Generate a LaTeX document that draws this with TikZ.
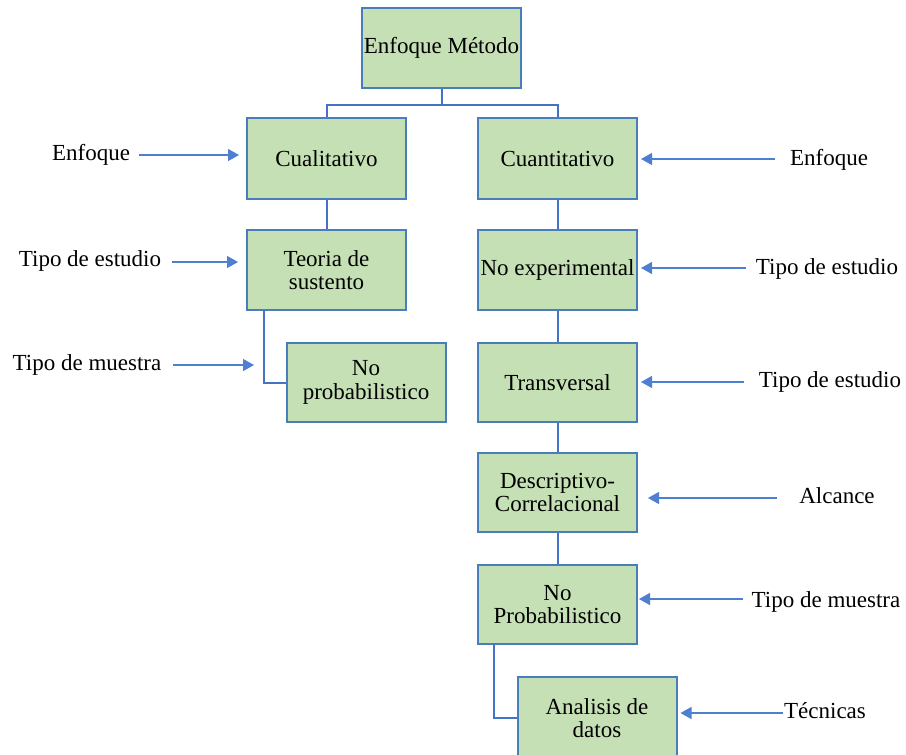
\documentclass[tikz,border=0pt]{standalone}
\usepackage{fontspec}
\setmainfont{Liberation Serif}
\usetikzlibrary{arrows.meta}
\definecolor{boxfill}{HTML}{C5E0B4}
\definecolor{boxdraw}{HTML}{4A7EBB}
\definecolor{linkc}{HTML}{4472C4}
\definecolor{arrc}{HTML}{4F7FD0}
\tikzset{
  box/.style={draw=boxdraw, line width=2pt, fill=boxfill, minimum width=159pt, inner sep=0pt, align=center, font=\fontsize{23}{23.5}\selectfont},
  link/.style={draw=linkc, line width=2pt},
  arr/.style={draw=arrc, line width=1.3pt, -{Triangle[length=11pt,width=12pt]}},
  lab/.style={inner sep=0pt, font=\fontsize{23}{23.5}\selectfont}
}
\begin{document}
\begin{tikzpicture}[x=1pt,y=-1pt]
\useasboundingbox (0,0) rectangle (906,755);
\clip (0,0) rectangle (906,755);
% boxes
\node[box, minimum height=80pt] (met) at (441.5,48) {Enfoque Método};
\node[box, minimum height=81pt] (cual) at (326.5,158.5) {Cualitativo};
\node[box, minimum height=81pt] (cuan) at (557.5,158.5) {Cuantitativo};
\node[box, minimum height=80pt] (teo) at (326.5,270) {Teoria de\\sustento};
\node[box, minimum height=80pt] (noexp) at (557.5,270) {No experimental};
\node[box, minimum height=79pt] (npl) at (366,382.5) {No\\probabilistico};
\node[box, minimum height=79pt] (trans) at (557.5,382.5) {Transversal};
\node[box, minimum height=79pt] (desc) at (557.5,492.5) {Descriptivo-\\Correlacional};
\node[box, minimum height=79pt] (npr) at (557.5,604.5) {No\\Probabilistico};
\node[box, minimum height=82pt] (anal) at (597,718) {Analisis de\\datos};
% tree connectors
\coordinate (split) at (441.5,105);
\draw[link] (met.south) -- (split);
\draw[link] (cual.north) |- (split) -| (cuan.north);
\draw[link] (cual) -- (teo);
\draw[link] (cuan) -- (noexp);
\draw[link] (noexp) -- (trans);
\draw[link] (trans) -- (desc);
\draw[link] (desc) -- (npr);
\coordinate (tl) at (264,310);
\draw[link] (tl) |- (npl.west);
\coordinate (tr) at (494,644);
\draw[link] (tr) |- (anal.west);
% left labels
\node[lab, anchor=base] (l1) at (91,160) {Enfoque};
\node[lab, anchor=base] (l2) at (90,266) {Tipo de estudio};
\node[lab, anchor=base] (l3) at (87,370) {Tipo de muestra};
\coordinate (a1) at (139,155);
\coordinate (a2) at (172,262);
\coordinate (a3) at (173,365);
\coordinate (e1) at (239,155);
\coordinate (e2) at (238,262);
\coordinate (e3) at (254,365);
\draw[arr] (a1) -- (e1);
\draw[arr] (a2) -- (e2);
\draw[arr] (a3) -- (e3);
% right labels
\node[lab, anchor=base] (r1) at (829,165) {Enfoque};
\node[lab, anchor=base] (r2) at (827,274) {Tipo de estudio};
\node[lab, anchor=base] (r3) at (830,387) {Tipo de estudio};
\node[lab, anchor=base] (r4) at (837,503) {Alcance};
\node[lab, anchor=base] (r5) at (826,607) {Tipo de muestra};
\node[lab, anchor=base] (r6) at (825,718) {Técnicas};
\coordinate (b1) at (775,159);
\coordinate (b2) at (746,268);
\coordinate (b3) at (744,382);
\coordinate (b4) at (777,498);
\coordinate (b5) at (743,599);
\coordinate (b6) at (783,713);
\draw[arr, shorten >=3pt] (b1) -- (b1 -| cuan.east);
\draw[arr, shorten >=3pt] (b2) -- (b2 -| noexp.east);
\draw[arr, shorten >=3pt] (b3) -- (b3 -| trans.east);
\draw[arr, shorten >=10pt] (b4) -- (b4 -| desc.east);
\draw[arr, shorten >=1pt] (b5) -- (b5 -| npr.east);
\draw[arr, shorten >=3pt] (b6) -- (b6 -| anal.east);
\end{tikzpicture}
\end{document}
